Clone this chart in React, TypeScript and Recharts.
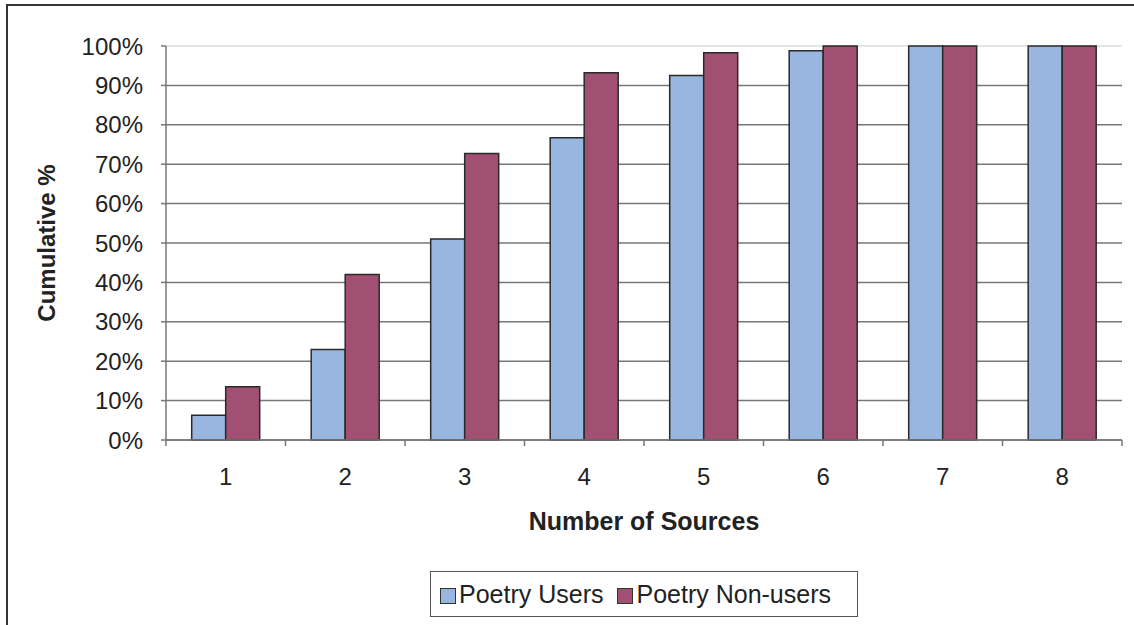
import { BarChart, Bar, XAxis, YAxis, CartesianGrid } from 'recharts';

// Kategorien und Werte (kumulative Prozent)
const categories = ['1', '2', '3', '4', '5', '6', '7', '8'];
const poetryUsers = [6.3, 23, 51, 76.7, 92.5, 98.8, 100, 100];
const poetryNonUsers = [13.5, 42, 72.7, 93.2, 98.3, 100, 100, 100];
const yTicks = [0, 10, 20, 30, 40, 50, 60, 70, 80, 90, 100];

const seriesNames = ['Poetry Users', 'Poetry Non-users'];
const seriesColors = ['#98B6DF', '#A14F73'];

const data = categories.map((name, i) => ({
  name,
  users: poetryUsers[i],
  nonUsers: poetryNonUsers[i],
}));

// Layout
const W = 1134;
const H = 625;
const MARGIN = { top: 46, right: 12, left: 0, bottom: 75 };
const Y_AXIS_W = 166;
const X_AXIS_H = 110;
const PLOT_W = W - MARGIN.left - MARGIN.right - Y_AXIS_W;
const BAND = PLOT_W / categories.length;
const FONT = '"Liberation Sans", Arial, sans-serif';

// x-Tick: Beschriftung in der Mitte, Striche an den Kategoriegrenzen (Excel-Stil)
const XTick = ({ x, y, payload, index }: any) => {
  const axisY = y - 10;
  return (
    <g>
      <line x1={x - BAND / 2} y1={axisY} x2={x - BAND / 2} y2={axisY + 6} stroke="#777" strokeWidth={1.5} />
      {index === categories.length - 1 && (
        <line x1={x + BAND / 2} y1={axisY} x2={x + BAND / 2} y2={axisY + 6} stroke="#777" strokeWidth={1.5} />
      )}
      <text x={x} y={y + 35} textAnchor="middle" fill="#222" fontSize={24} fontFamily={FONT}>
        {payload.value}
      </text>
    </g>
  );
};

const GridLine = (props: any) => {
  const top = Math.abs(props.y1 - props.y) < 0.5;
  return (
    <line
      x1={props.x1}
      y1={props.y1}
      x2={props.x2}
      y2={props.y2}
      stroke={top ? '#dddddd' : '#777777'}
      strokeWidth={1.5}
    />
  );
};

export default function App() {
  return (
    <div style={{ position: 'absolute', left: 0, top: 0, width: W, height: H, fontFamily: FONT }}>
      <div
        style={{
          position: 'absolute',
          left: 6,
          top: 4,
          width: W,
          height: H,
          borderTop: '2px solid #333',
          borderLeft: '2px solid #333',
        }}
      />
      <BarChart
        width={W}
        height={H}
        data={data}
        margin={MARGIN}
        barCategoryGap="21.5%"
        barGap={0}
      >
        <CartesianGrid vertical={false} horizontal={<GridLine />} />
        <XAxis
          dataKey="name"
          height={X_AXIS_H}
          tickLine={false}
          tickSize={6}
          tickMargin={4}
          axisLine={{ stroke: '#777', strokeWidth: 1.5 }}
          tick={<XTick />}
          interval={0}
          label={{
            value: 'Number of Sources',
            position: 'insideBottom',
            offset: 20,
            style: { fontWeight: 'bold', fontSize: 25, fill: '#222', fontFamily: FONT },
          }}
        />
        <YAxis
          width={Y_AXIS_W}
          domain={[0, 100]}
          ticks={yTicks}
          interval={0}
          tickFormatter={(v: number) => `${v}%`}
          tickSize={5}
          tickMargin={18}
          tickLine={{ stroke: '#777', strokeWidth: 1.5 }}
          axisLine={{ stroke: '#777', strokeWidth: 1.5 }}
          tick={{ fill: '#222', fontSize: 24, fontFamily: FONT }}
          label={{
            value: 'Cumulative %',
            angle: -90,
            position: 'insideLeft',
            offset: 46,
            style: { textAnchor: 'middle', fontWeight: 'bold', fontSize: 24, fill: '#222', fontFamily: FONT },
          }}
        />
        <Bar dataKey="users" name={seriesNames[0]} fill={seriesColors[0]} stroke="#2a2a2a" strokeWidth={1.5} isAnimationActive={false} />
        <Bar dataKey="nonUsers" name={seriesNames[1]} fill={seriesColors[1]} stroke="#2a2a2a" strokeWidth={1.5} isAnimationActive={false} />
      </BarChart>
      <div
        style={{
          position: 'absolute',
          left: 430,
          top: 571,
          width: 428,
          height: 46,
          border: '1px solid #555',
          display: 'flex',
          alignItems: 'center',
          paddingLeft: 9,
          boxSizing: 'border-box',
          fontSize: 25,
          color: '#222',
        }}
      >
        {seriesNames.map((n, i) => (
          <div key={n} style={{ display: 'flex', alignItems: 'center', marginRight: 14 }}>
            <span
              style={{
                display: 'inline-block',
                width: 14,
                height: 14,
                background: seriesColors[i],
                border: '1px solid #333',
                marginRight: 3,
                marginTop: 4,
              }}
            />
            <span>{n}</span>
          </div>
        ))}
      </div>
    </div>
  );
}
